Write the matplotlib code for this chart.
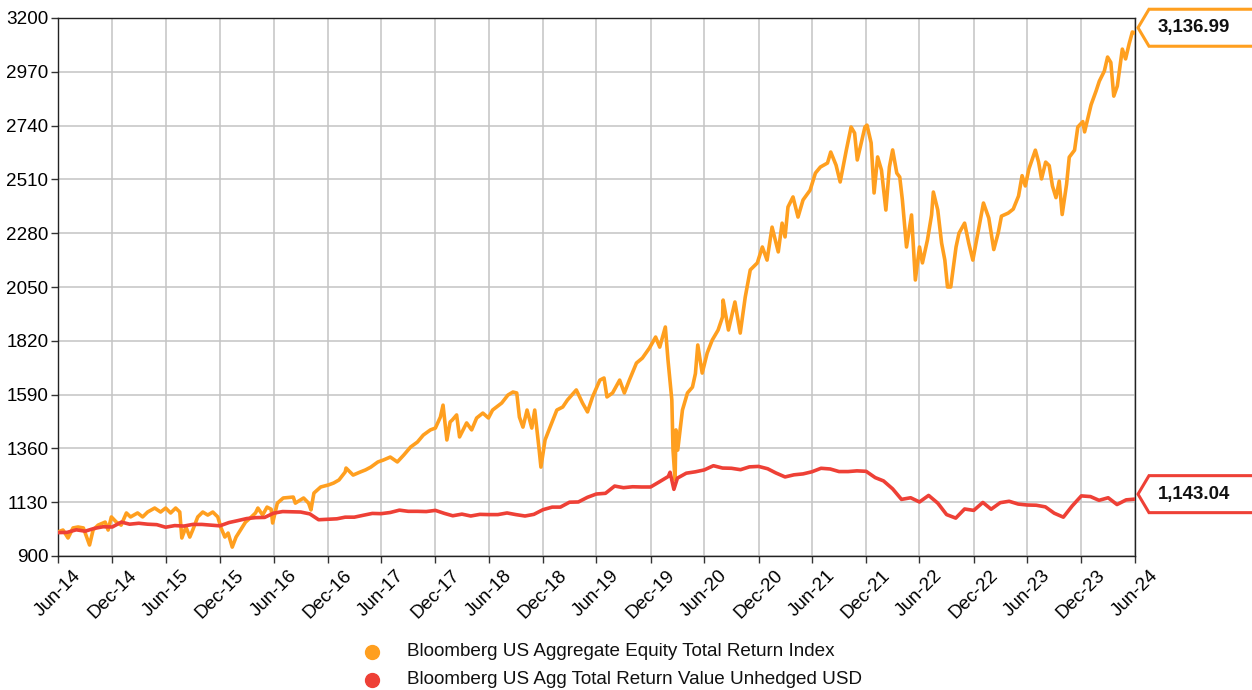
import matplotlib
matplotlib.use("Agg")
import matplotlib.pyplot as plt
import matplotlib.dates as mdates
import pandas as pd
from matplotlib.patches import Polygon
from matplotlib.lines import Line2D
from matplotlib.transforms import IdentityTransform

plt.rcParams['font.family'] = ['Liberation Sans', 'DejaVu Sans']

# ---------------- data ----------------
equity_dates = [
    "2014-06-30", "2014-07-17", "2014-08-03", "2014-08-20", "2014-09-06", "2014-09-24",
    "2014-10-15", "2014-10-27", "2014-11-13", "2014-12-07", "2014-12-17", "2014-12-28",
    "2015-01-14", "2015-01-30", "2015-02-17", "2015-03-03", "2015-03-27", "2015-04-13",
    "2015-04-30", "2015-05-24", "2015-06-13", "2015-06-30", "2015-07-17", "2015-08-03",
    "2015-08-17", "2015-08-24", "2015-09-07", "2015-09-20", "2015-09-30", "2015-10-17",
    "2015-11-03", "2015-11-20", "2015-12-07", "2015-12-24", "2016-01-04", "2016-01-17",
    "2016-01-28", "2016-02-11", "2016-02-24", "2016-03-10", "2016-03-27", "2016-04-16",
    "2016-04-30", "2016-05-08", "2016-05-24", "2016-06-08", "2016-06-22", "2016-06-27",
    "2016-07-13", "2016-08-02", "2016-09-05", "2016-09-12", "2016-10-10", "2016-10-27",
    "2016-11-04", "2016-11-14", "2016-12-07", "2017-01-03", "2017-01-20", "2017-02-07",
    "2017-02-28", "2017-03-03", "2017-03-27", "2017-04-20", "2017-05-08", "2017-05-26",
    "2017-06-19", "2017-07-07", "2017-07-31", "2017-08-24", "2017-09-15", "2017-10-08",
    "2017-10-31", "2017-11-20", "2017-12-14", "2017-12-31", "2018-01-17", "2018-01-26",
    "2018-02-08", "2018-02-19", "2018-02-26", "2018-03-13", "2018-03-23", "2018-04-16",
    "2018-05-03", "2018-05-20", "2018-06-10", "2018-06-29", "2018-07-13", "2018-08-13",
    "2018-09-03", "2018-09-20", "2018-10-03", "2018-10-12", "2018-10-24", "2018-11-07",
    "2018-11-23", "2018-12-03", "2018-12-17", "2018-12-24", "2019-01-07", "2019-01-24",
    "2019-02-16", "2019-03-08", "2019-03-24", "2019-04-23", "2019-05-14", "2019-05-31",
    "2019-06-17", "2019-07-12", "2019-07-26", "2019-08-05", "2019-08-24", "2019-09-17",
    "2019-10-03", "2019-10-20", "2019-11-13", "2019-12-03", "2019-12-27", "2020-01-17",
    "2020-01-31", "2020-02-19", "2020-02-28", "2020-03-12", "2020-03-16", "2020-03-23",
    "2020-03-26", "2020-04-01", "2020-04-17", "2020-05-04", "2020-05-21", "2020-05-31",
    "2020-06-08", "2020-06-23", "2020-07-10", "2020-07-27", "2020-08-16", "2020-08-31",
    "2020-09-02", "2020-09-20", "2020-10-12", "2020-10-30", "2020-11-16", "2020-12-03",
    "2020-12-27", "2021-01-13", "2021-01-29", "2021-02-15", "2021-03-08", "2021-03-21",
    "2021-03-31", "2021-04-10", "2021-04-27", "2021-05-14", "2021-05-31", "2021-06-24",
    "2021-07-12", "2021-07-29", "2021-08-22", "2021-09-02", "2021-09-20", "2021-10-04",
    "2021-10-25", "2021-11-10", "2021-11-22", "2021-12-01", "2021-12-27", "2022-01-03",
    "2022-01-17", "2022-01-27", "2022-02-08", "2022-02-21", "2022-03-08", "2022-03-20",
    "2022-03-31", "2022-04-14", "2022-04-24", "2022-05-03", "2022-05-17", "2022-06-03",
    "2022-06-16", "2022-06-30", "2022-07-10", "2022-07-27", "2022-08-10", "2022-08-16",
    "2022-08-31", "2022-09-13", "2022-09-24", "2022-10-03", "2022-10-14", "2022-11-01",
    "2022-11-11", "2022-11-30", "2022-12-14", "2022-12-28", "2023-01-18", "2023-02-02",
    "2023-02-20", "2023-03-09", "2023-03-24", "2023-04-04", "2023-04-27", "2023-05-14",
    "2023-06-01", "2023-06-13", "2023-06-24", "2023-07-06", "2023-07-28", "2023-08-08",
    "2023-08-18", "2023-09-01", "2023-09-13", "2023-09-24", "2023-10-06", "2023-10-17",
    "2023-10-27", "2023-11-11", "2023-11-20", "2023-12-08", "2023-12-19", "2024-01-05",
    "2024-01-11", "2024-01-22", "2024-02-02", "2024-02-19", "2024-03-01", "2024-03-18",
    "2024-03-29", "2024-04-09", "2024-04-19", "2024-05-01", "2024-05-18", "2024-05-29",
    "2024-06-10", "2024-06-21", "2024-06-28",
]
equity_values = [
    1003, 1011, 977, 1020, 1024, 1020,
    947, 1011, 1032, 1045, 1011, 1067,
    1045, 1032, 1084, 1067, 1084, 1067,
    1088, 1105, 1088, 1105, 1084, 1105,
    1088, 977, 1024, 981, 1011, 1067,
    1088, 1075, 1088, 1067, 1020, 981,
    998, 938, 981, 1011, 1045, 1067,
    1084, 1105, 1075, 1109, 1100, 1041,
    1126, 1148, 1152, 1126, 1148, 1126,
    1097, 1169, 1195, 1204, 1212, 1225,
    1259, 1276, 1246, 1259, 1268, 1280,
    1302, 1310, 1323, 1302, 1332, 1366,
    1387, 1417, 1439, 1447, 1494, 1545,
    1396, 1473, 1481, 1503, 1409, 1469,
    1439, 1490, 1511, 1490, 1524, 1554,
    1588, 1601, 1597, 1494, 1451, 1524,
    1447, 1524, 1366, 1280, 1396, 1451,
    1524, 1537, 1567, 1610, 1554, 1516,
    1580, 1652, 1661, 1580, 1597, 1652,
    1597, 1652, 1725, 1746, 1789, 1836,
    1793, 1879, 1738, 1567, 1353, 1225,
    1439, 1353, 1524, 1597, 1622, 1680,
    1802, 1682, 1768, 1823, 1866, 1922,
    1994, 1866, 1986, 1853, 2007, 2123,
    2153, 2221, 2165, 2306, 2200, 2323,
    2264, 2392, 2435, 2349, 2422, 2464,
    2537, 2563, 2580, 2627, 2571, 2499,
    2636, 2734, 2708, 2593, 2734, 2742,
    2666, 2452, 2606, 2550, 2379, 2563,
    2636, 2537, 2520, 2422, 2221, 2358,
    2080, 2221, 2153, 2251, 2358, 2456,
    2379, 2238, 2165, 2050, 2050, 2221,
    2280, 2323, 2238, 2165, 2306, 2409,
    2345, 2210, 2281, 2353, 2366, 2383,
    2439, 2526, 2482, 2554, 2635, 2584,
    2512, 2584, 2569, 2482, 2432, 2503,
    2360, 2490, 2605, 2635, 2734, 2757,
    2713, 2772, 2829, 2888, 2930, 2973,
    3033, 3010, 2866, 2909, 3067, 3025,
    3089, 3140, 3136.99,
]

agg_dates = [
    "2014-06-30", "2014-07-31", "2014-08-31", "2014-09-30", "2014-10-31", "2014-11-30",
    "2014-12-31", "2015-01-31", "2015-02-28", "2015-03-31", "2015-04-30", "2015-05-31",
    "2015-06-30", "2015-07-31", "2015-08-31", "2015-09-30", "2015-10-31", "2015-11-30",
    "2015-12-31", "2016-01-31", "2016-02-29", "2016-03-31", "2016-04-30", "2016-05-31",
    "2016-06-30", "2016-07-31", "2016-08-31", "2016-09-30", "2016-10-31", "2016-11-30",
    "2016-12-31", "2017-01-31", "2017-02-28", "2017-03-31", "2017-04-30", "2017-05-31",
    "2017-06-30", "2017-07-31", "2017-08-31", "2017-09-30", "2017-10-31", "2017-11-30",
    "2017-12-31", "2018-01-31", "2018-02-28", "2018-03-31", "2018-04-30", "2018-05-31",
    "2018-06-30", "2018-07-31", "2018-08-31", "2018-09-30", "2018-10-31", "2018-11-30",
    "2018-12-31", "2019-01-31", "2019-02-28", "2019-03-31", "2019-04-30", "2019-05-31",
    "2019-06-30", "2019-07-31", "2019-08-31", "2019-09-30", "2019-10-31", "2019-11-30",
    "2019-12-31", "2020-01-31", "2020-02-29", "2020-03-06", "2020-03-19", "2020-03-31",
    "2020-04-30", "2020-05-31", "2020-06-30", "2020-07-31", "2020-08-31", "2020-09-30",
    "2020-10-31", "2020-11-30", "2020-12-31", "2021-01-31", "2021-02-28", "2021-03-31",
    "2021-04-30", "2021-05-31", "2021-06-30", "2021-07-31", "2021-08-31", "2021-09-30",
    "2021-10-31", "2021-11-30", "2021-12-31", "2022-01-31", "2022-02-28", "2022-03-31",
    "2022-04-30", "2022-05-31", "2022-06-30", "2022-07-31", "2022-08-31", "2022-09-30",
    "2022-10-31", "2022-11-30", "2022-12-31", "2023-01-31", "2023-02-28", "2023-03-31",
    "2023-04-30", "2023-05-31", "2023-06-30", "2023-07-31", "2023-08-31", "2023-09-30",
    "2023-10-31", "2023-11-30", "2023-12-31", "2024-01-31", "2024-02-29", "2024-03-31",
    "2024-04-30", "2024-05-31", "2024-06-28",
]
agg_values = [
    1000, 1001, 1012, 1006, 1018, 1025,
    1024, 1045, 1036, 1040, 1036, 1034,
    1023, 1030, 1028, 1035, 1035, 1032,
    1029, 1043, 1051, 1060, 1064, 1065,
    1083, 1090, 1089, 1088, 1080, 1055,
    1057, 1059, 1066, 1066, 1074, 1082,
    1081, 1086, 1096, 1091, 1091, 1090,
    1095, 1082, 1072, 1079, 1071, 1078,
    1077, 1077, 1084, 1077, 1071, 1078,
    1098, 1109, 1109, 1130, 1131, 1151,
    1165, 1168, 1199, 1192, 1196, 1195,
    1195, 1218, 1240, 1258, 1185, 1233,
    1254, 1260, 1268, 1286, 1276, 1275,
    1269, 1281, 1283, 1273, 1255, 1238,
    1247, 1251, 1260, 1275, 1272, 1261,
    1261, 1264, 1262, 1235, 1221, 1187,
    1142, 1149, 1131, 1159, 1126, 1077,
    1062, 1101, 1095, 1129, 1100, 1128,
    1134, 1122, 1118, 1117, 1110, 1083,
    1066, 1114, 1157, 1154, 1138, 1149,
    1120, 1140, 1143.04,
]

series_names = ["Bloomberg US Aggregate Equity Total Return Index",
                "Bloomberg US Agg Total Return Value Unhedged USD"]
last_labels = ["3,136.99", "1,143.04"]

y_ticks = [900, 1130, 1360, 1590, 1820, 2050, 2280, 2510, 2740, 2970, 3200]
x_tick_dates = ["2014-06-30", "2014-12-31", "2015-06-30", "2015-12-31", "2016-06-30",
                "2016-12-31", "2017-06-30", "2017-12-31", "2018-06-30", "2018-12-31",
                "2019-06-30", "2019-12-31", "2020-06-30", "2020-12-31", "2021-06-30",
                "2021-12-31", "2022-06-30", "2022-12-31", "2023-06-30", "2023-12-31",
                "2024-06-30"]
x_tick_labels = ["Jun-14", "Dec-14", "Jun-15", "Dec-15", "Jun-16", "Dec-16", "Jun-17",
                 "Dec-17", "Jun-18", "Dec-18", "Jun-19", "Dec-19", "Jun-20", "Dec-20",
                 "Jun-21", "Dec-21", "Jun-22", "Dec-22", "Jun-23", "Dec-23", "Jun-24"]

ORANGE = "#FF9F1F"
RED = "#EE4036"
FS = 13.6

# ---------------- figure ----------------
W, H = 1252, 690
fig = plt.figure(figsize=(W / 100, H / 100), dpi=100)
ax = fig.add_axes([58 / W, 1 - 556 / H, (1135 - 58) / W, (556 - 18) / H])

eq_x = pd.to_datetime(equity_dates)
ag_x = pd.to_datetime(agg_dates)
ax.plot(eq_x, equity_values, color=ORANGE, lw=2.6, solid_joinstyle="round", zorder=3)
ax.plot(ag_x, agg_values, color=RED, lw=2.6, solid_joinstyle="round", zorder=4)

ax.set_xlim(pd.Timestamp("2014-06-30"), pd.Timestamp("2024-06-30"))
ax.set_ylim(900, 3200)
ax.set_yticks(y_ticks)
ax.set_yticklabels([str(v) for v in y_ticks])
ax.set_xticks(pd.to_datetime(x_tick_dates))
ax.set_xticklabels(x_tick_labels, rotation=45, ha="center")

ax.grid(True, color="#c4c4c4", lw=1.1)
ax.set_axisbelow(True)
ax.tick_params(axis="both", labelsize=FS, length=5, width=1, color="#333333",
               labelcolor="black")
ax.tick_params(axis="x", pad=3)
ax.tick_params(axis="y", pad=2)
for s in ax.spines.values():
    s.set_color("#222222")
    s.set_linewidth(1)

# ---------------- end-value callouts ----------------
end_x = mdates.date2num(pd.Timestamp("2024-06-30"))
for val, col, lab in [(equity_values[-1], ORANGE, last_labels[0]),
                      (agg_values[-1], RED, last_labels[1])]:
    xd, yd = ax.transData.transform((end_x, val))
    yd += 5
    tip = xd + 3
    hh = 18.5
    pts = [(tip, yd), (tip + 11, yd + hh), (W + 10, yd + hh),
           (W + 10, yd - hh), (tip + 11, yd - hh)]
    poly = Polygon(pts, closed=True, facecolor="white", edgecolor=col, lw=2.2,
                   transform=IdentityTransform(), clip_on=False, zorder=10)
    fig.add_artist(poly)
    fig.text(1194 / W, yd / H, lab, ha="center", va="center", fontsize=13.4,
             fontweight="bold", color="#111111", zorder=11)

# ---------------- legend ----------------
for i, (name, col) in enumerate(zip(series_names, [ORANGE, RED])):
    yy = 1 - (652 + 28 * i) / H
    fig.add_artist(Line2D([372 / W], [yy], marker="o", markersize=10, color=col,
                          linestyle="none", transform=fig.transFigure))
    fig.text(407 / W, yy, name, ha="left", va="center", fontsize=FS, color="#111111")

fig.savefig("out.png", dpi=100)
